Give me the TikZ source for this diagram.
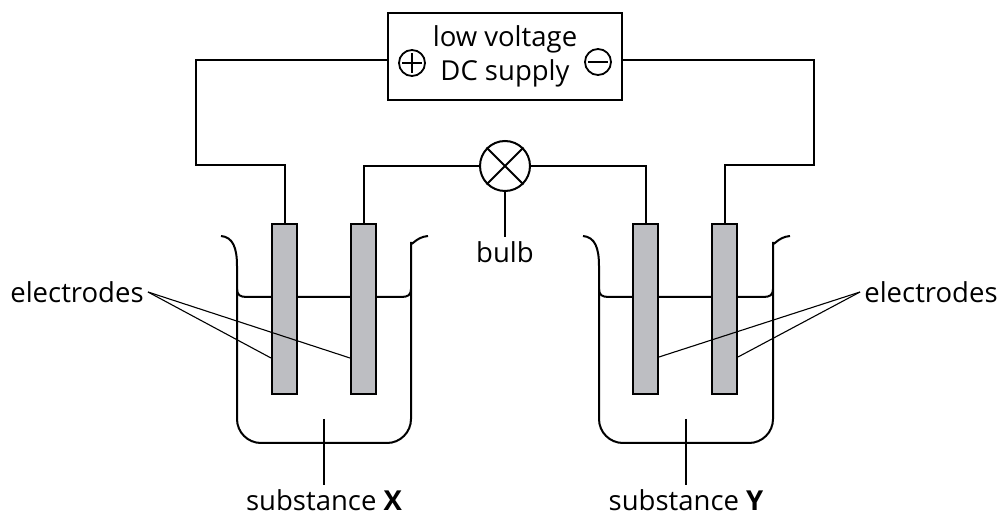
\documentclass[tikz,border=0pt]{standalone}
\usepackage{fontspec}
\setmainfont{Open Sans}
\usetikzlibrary{positioning}
\definecolor{elgray}{RGB}{189,190,194}
\begin{document}
\begin{tikzpicture}[x=1pt, y=-1pt, line width=2pt, font=\fontsize{27.5}{34}\selectfont]
\useasboundingbox (0,0) rectangle (1002,518);
\tikzstyle{electrode} = [draw, fill=elgray, minimum width=25pt, minimum height=170pt, inner sep=0pt]
\tikzstyle{sign} = [draw, circle, minimum size=26pt, inner sep=0pt, line width=1.8pt]
\tikzstyle{leader} = [line width=1.1pt]
% supply
\node[draw, align=center, minimum width=234pt, minimum height=87pt] (sup) at (505,56.5) {low voltage\\DC supply};
\node[sign] (plus) at (412,63) {};
\node[sign] (minus) at (598,62) {};
\draw[line width=1.8pt] ([xshift=4pt]plus.west) -- ([xshift=-4pt]plus.east)
	([yshift=-4pt]plus.north) -- ([yshift=4pt]plus.south)
	([xshift=4pt]minus.west) -- ([xshift=-4pt]minus.east);
% beakers
\foreach \s in {0,362} {
\draw[shift={(\s,0)}] (221,236) .. controls (233,237) and (237,248) .. (237,266)
	{[rounded corners=24pt] -- (237,443) -- (411,443) -- (411,266)}
	.. controls (411,248) and (415,237) .. (428,236);
\draw[shift={(\s,0)}] (237,289) .. controls (237,295) and (240,297) .. (247,297) -- (401,297)
	.. controls (408,297) and (411,295) .. (411,289);
}
% electrodes
\node[electrode] (e1) at (284.5,309) {};
\node[electrode] (e2) at (363.5,309) {};
\node[electrode] (e3) at (645.5,309) {};
\node[electrode] (e4) at (724.5,309) {};
% bulb
\node[draw, circle, minimum size=50pt, inner sep=0pt] (b) at (505,166) {};
\draw (b.north west) -- (b.south east) (b.north east) -- (b.south west);
% wires
\draw ([yshift=-3.5pt]sup.west) -| (196,165) -| (e1.north);
\draw ([yshift=-3.5pt]sup.east) -| (814,165) -| (e4.north);
\draw (e2.north) |- (b.west);
\draw (b.east) -| (e3.north);
% labels
\node (bl) at (505,252) {bulb};
\node (sx) at (324,500) {substance \textbf{X}};
\node (sy) at (686,500) {substance \textbf{Y}};
\node (el) at (77,292) {electrodes};
\node (er) at (931,292) {electrodes};
\draw[leader] (b.south) -- (bl.north);
\draw[leader] (324,419) -- (sx.north);
\draw[leader] (686,419) -- (sy.north);
\draw[leader] (el.east) -- (e1.west |- 0,358);
\draw[leader] (el.east) -- (e2.west |- 0,358);
\draw[leader] (er.west) -- (e3.east |- 0,357);
\draw[leader] (er.west) -- (e4.east |- 0,357);
\end{tikzpicture}
\end{document}
